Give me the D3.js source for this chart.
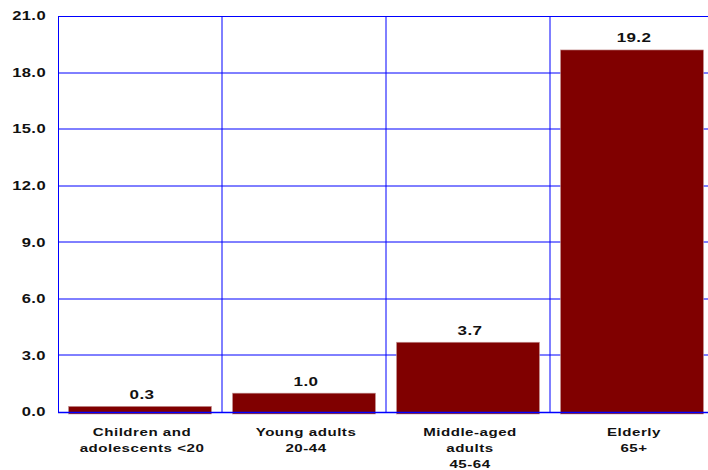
<!DOCTYPE html>
<html>
<head>
<meta charset="utf-8">
<script src="https://cdn.jsdelivr.net/npm/d3@7/dist/d3.min.js"></script>
<style>
  html, body { margin: 0; padding: 0; background: #ffffff; }
  svg { display: block; }
  text { font-family: "Liberation Sans", Arial, sans-serif; font-weight: bold; fill: #111111; }
</style>
</head>
<body>
<svg id="chart" width="708" height="470"></svg>
<script>
// Age groups (multi-line labels) and their rates
const categories = [
  ["Children and", "adolescents <20"],
  ["Young adults", "20-44"],
  ["Middle-aged", "adults", "45-64"],
  ["Elderly", "65+"]
];
const values = [0.3, 1.0, 3.7, 19.2];
const yTicks = [0, 3, 6, 9, 12, 15, 18, 21];

const svg = d3.select("#chart");
const plot = { left: 58, top: 16, bottom: 412, right: 714 };

const x = d3.scaleBand()
  .domain(d3.range(categories.length))
  .range([plot.left, plot.right])
  .paddingInner(0.128)
  .paddingOuter(0.064);

const y = d3.scaleLinear().domain([0, 21]).range([plot.bottom, plot.top]);

// Inner grid: horizontal lines at each tick, vertical lines between groups
const grid = svg.append("g");
grid.selectAll("line.h")
  .data(yTicks.filter(t => t > 0 && t < 21))
  .join("line")
  .attr("x1", plot.left).attr("x2", plot.right)
  .attr("y1", d => Math.round(y(d))).attr("y2", d => Math.round(y(d)))
  .attr("stroke", "#0000ff").attr("stroke-width", 1);
const step = x.step();
grid.selectAll("line.v")
  .data(d3.range(1, categories.length))
  .join("line")
  .attr("x1", d => Math.round(plot.left + d * step)).attr("x2", d => Math.round(plot.left + d * step))
  .attr("y1", plot.top).attr("y2", plot.bottom)
  .attr("stroke", "#0000ff").attr("stroke-width", 1);

// Frame: left and top borders
svg.append("line")
  .attr("x1", plot.left + 0.5).attr("x2", plot.left + 0.5)
  .attr("y1", plot.top).attr("y2", plot.bottom)
  .attr("stroke", "#0000ff").attr("stroke-width", 1);
svg.append("line")
  .attr("x1", plot.left).attr("x2", plot.right)
  .attr("y1", plot.top + 0.5).attr("y2", plot.top + 0.5)
  .attr("stroke", "#0000ff").attr("stroke-width", 1);

// Bars
svg.append("g").selectAll("rect")
  .data(values)
  .join("rect")
  .attr("x", (d, i) => x(i))
  .attr("width", x.bandwidth())
  .attr("y", d => y(d))
  .attr("height", d => y(0) - y(d) + 2)
  .attr("fill", "#800000")
  .attr("stroke", "#c79a9a")
  .attr("stroke-width", 0.6);

// Baseline drawn over the bars
svg.append("line")
  .attr("x1", plot.left).attr("x2", plot.right)
  .attr("y1", plot.bottom + 0.5).attr("y2", plot.bottom + 0.5)
  .attr("stroke", "#0000ff").attr("stroke-width", 1.6);

// Extended (horizontally widened) lettering
const wide = (sx) => (tx, ty) => `translate(${tx},${ty}) scale(${sx},1)`;

// Value labels above bars
const valuePos = wide(1.36);
svg.append("g").selectAll("text")
  .data(values)
  .join("text")
  .attr("transform", (d, i) => valuePos(x(i) + x.bandwidth() / 2 + 2, y(d) - 7.5))
  .attr("text-anchor", "middle")
  .style("font-size", "12.5px")
  .style("letter-spacing", "0.3px")
  .text(d => d.toFixed(1));

// Y tick labels
const tickPos = wide(1.38);
svg.append("g").selectAll("text")
  .data(yTicks)
  .join("text")
  .attr("transform", d => tickPos(46, y(d)))
  .attr("dy", "0.36em")
  .attr("text-anchor", "end")
  .style("font-size", "12px")
  .style("letter-spacing", "0.3px")
  .text(d => d.toFixed(1));

// Category labels
const catPos = wide(1.28);
const cat = svg.append("g").selectAll("text")
  .data(categories)
  .join("text")
  .attr("transform", (d, i) => catPos(plot.left + (i + 0.5) * step + 2, 436))
  .attr("text-anchor", "middle")
  .style("font-size", "11.8px")
  .style("letter-spacing", "0.4px");
cat.each(function(lines) {
  const t = d3.select(this);
  lines.forEach((line, j) => {
    t.append("tspan")
      .attr("x", 0)
      .attr("y", j * 16)
      .text(line);
  });
});
</script>
</body>
</html>
